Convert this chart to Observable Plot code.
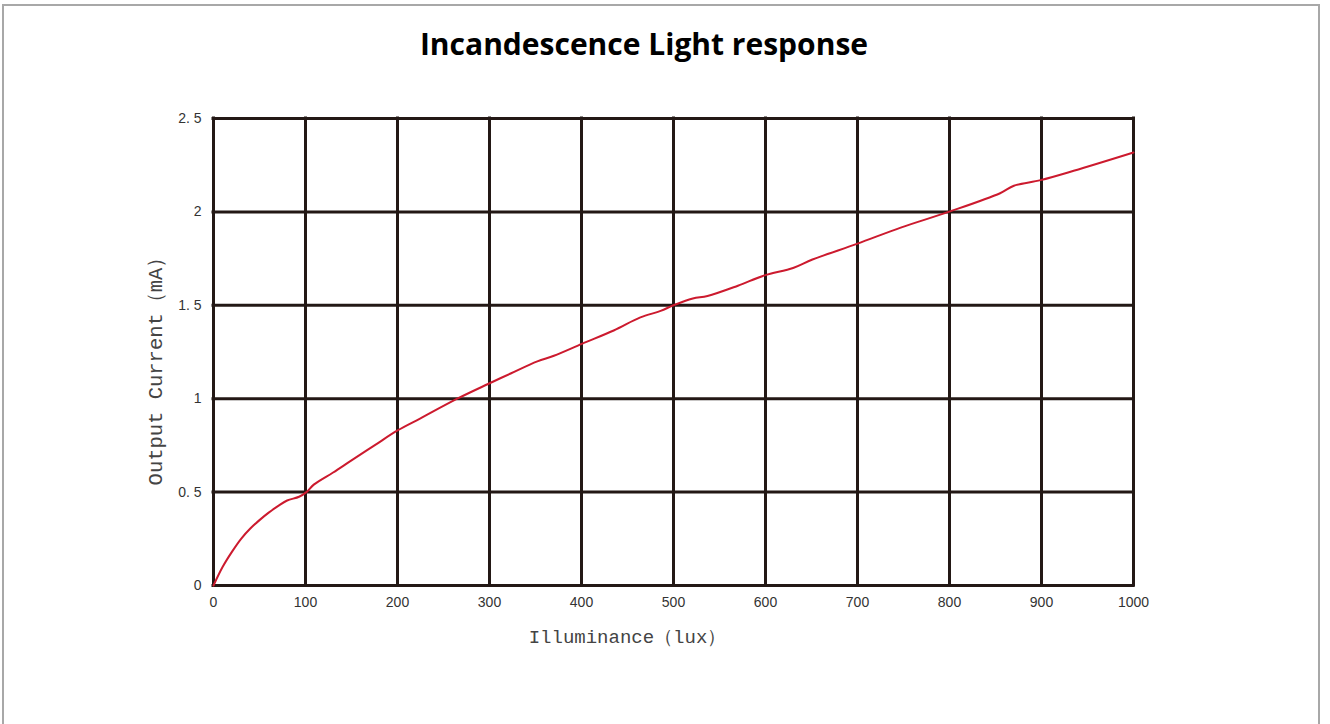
<!DOCTYPE html>
<html>
<head>
<meta charset="utf-8">
<script src="https://cdn.jsdelivr.net/npm/d3@7"></script>
<script src="https://cdn.jsdelivr.net/npm/@observablehq/plot@0.6"></script>
<style>
  html, body { margin: 0; padding: 0; background: #fff; width: 1330px; height: 724px; overflow: hidden; }
  #border { position: absolute; left: 2px; top: 4px; width: 1318px; height: 800px; border: 2px solid #a8a8a8; box-sizing: border-box; }
  #title { position: absolute; left: 0; top: 25px; width: 1288px; text-align: center; font-family: "Open Sans", Lato, sans-serif; font-weight: 700; font-size: 30px; line-height: 38px; color: #000; }
  #chart { position: absolute; left: 0; top: 80px; }
</style>
</head>
<body>
<div id="border"></div>
<div id="title">Incandescence Light response</div>
<div id="chart"></div>
<script>
const lux = [0, 10, 20, 30, 40, 50, 60, 70, 80, 93, 101, 109, 130, 150, 175, 200, 225, 265, 299, 323, 352, 370, 401, 435, 464, 486, 500, 521, 537, 570, 599, 630, 651, 700, 747, 799, 855, 870, 899, 935, 1000];
const current = [0, 0.10, 0.18, 0.25, 0.305, 0.35, 0.39, 0.425, 0.455, 0.475, 0.50, 0.54, 0.605, 0.67, 0.75, 0.83, 0.895, 1.0, 1.08, 1.135, 1.2, 1.23, 1.295, 1.365, 1.435, 1.47, 1.5, 1.536, 1.55, 1.605, 1.66, 1.70, 1.745, 1.83, 1.916, 2.0, 2.10, 2.14, 2.17, 2.22, 2.318];
const xTicks = [0, 100, 200, 300, 400, 500, 600, 700, 800, 900, 1000];
const yTicks = [0, 0.5, 1, 1.5, 2, 2.5];
const yTickLabels = ["0", "0. 5", "1", "1. 5", "2", "2. 5"];
const xLabel = "Illuminance（lux）";
const yLabel = "Output Current（mA）";

const data = lux.map((x, i) => ({x, y: current[i]}));
const gridColor = "#231815";

const chart = Plot.plot({
  width: 1330,
  height: 644,
  marginLeft: 213,
  marginRight: 197,
  marginTop: 38,
  marginBottom: 139,
  x: {domain: [0, 1000]},
  y: {domain: [0, 2.5]},
  style: {background: "transparent"},
  marks: [
    Plot.ruleX(xTicks, {stroke: gridColor, strokeWidth: 3, strokeLinecap: "square"}),
    Plot.ruleY(yTicks, {stroke: gridColor, strokeWidth: 3, strokeLinecap: "square"}),
    Plot.line(data, {x: "x", y: "y", stroke: "#cc1a2e", strokeWidth: 2, curve: "catmull-rom"}),
    Plot.axisX(xTicks, {tickSize: 0, tickPadding: 12, fontSize: 14, fill: "#333", fontFamily: "Liberation Sans, Arial, sans-serif", label: null, tickFormat: d => String(d)}),
    Plot.axisY(yTicks, {tickSize: 0, tickPadding: 12, fontSize: 14, fill: "#333", fontFamily: "Liberation Sans, Arial, sans-serif", label: null, tickFormat: d => yTickLabels[yTicks.indexOf(d)]}),
    Plot.text([xLabel], {frameAnchor: "bottom", dy: 57, dx: -46, fontSize: 19, fill: "#444", fontFamily: "Liberation Mono, monospace"}),
    Plot.text([yLabel], {frameAnchor: "left", textAnchor: "middle", dx: -58, dy: 14, rotate: -90, fontSize: 20.5, fill: "#444", fontFamily: "Liberation Mono, monospace"})
  ]
});
document.getElementById("chart").appendChild(chart);
</script>
</body>
</html>
